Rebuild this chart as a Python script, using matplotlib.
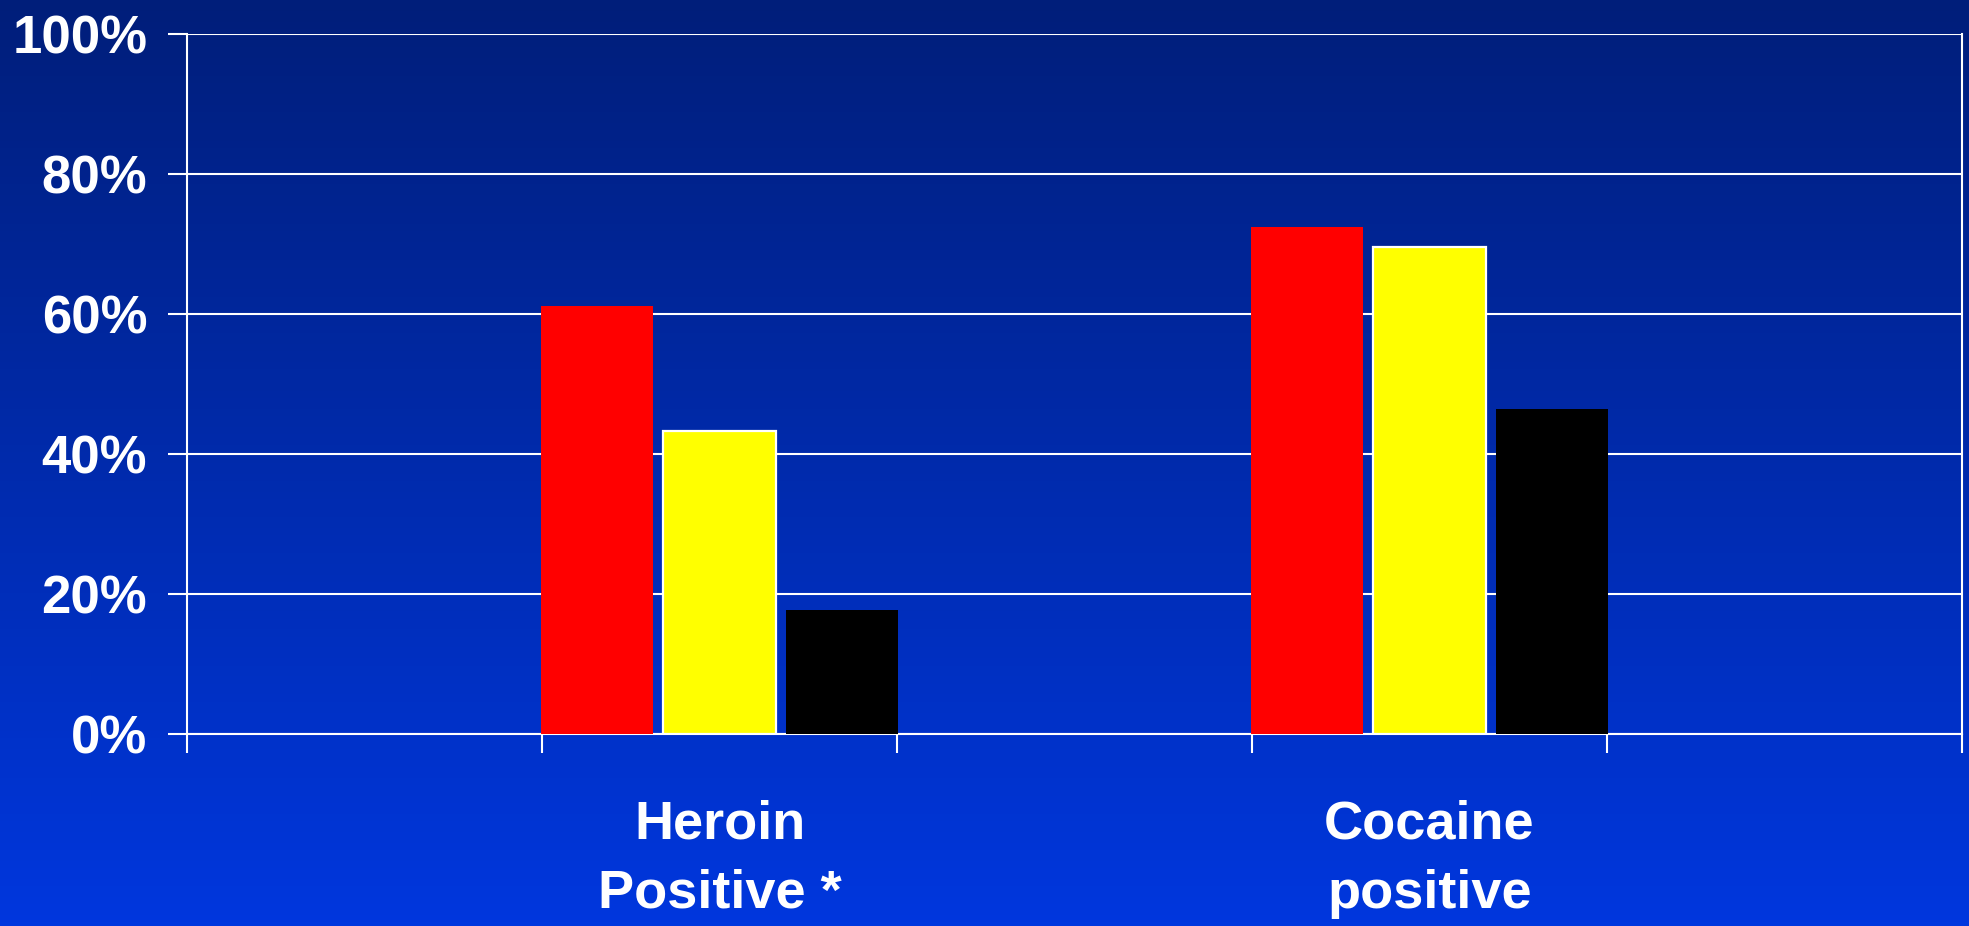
"""Grouped bar chart of heroin / cocaine positive rates on a blue gradient slide background."""

import matplotlib
matplotlib.use("Agg")
import matplotlib.pyplot as plt
import numpy as np

## Data.
categories = ["Heroin\nPositive *", "Cocaine\npositive"]
group_a = [61.2, 72.5]   # red bars
group_b = [43.3, 69.6]   # yellow bars
group_c = [17.7, 46.5]   # black bars
y_ticks = [0, 20, 40, 60, 80, 100]
y_tick_labels = ["0%", "20%", "40%", "60%", "80%", "100%"]

# The axis has five category slots, the data sits in the 2nd and 4th.
n_slots = 5
slots = [1, 3]

plt.rcParams['font.family'] = ['Liberation Sans', 'DejaVu Sans']

fig = plt.figure(figsize=(19.69, 9.26), dpi=100)

# Background gradient, dark navy at the top to brighter blue at the bottom.
bg = fig.add_axes([0, 0, 1, 1], zorder=0)
top = np.array([0, 30, 122]) / 255
bottom = np.array([0, 55, 222]) / 255
t = np.linspace(0, 1, 256)[:, None]
grad = top + (bottom - top) * t
bg.imshow(grad[:, None, :], aspect="auto", extent=[0, 1, 0, 1])
bg.axis("off")

ax = fig.add_axes([187 / 1969, 192 / 926, (1962 - 187) / 1969, 700 / 926], zorder=1)
ax.set_facecolor("none")

spacing = 0.3437
width = 0.3155
centers = np.array(slots) + 0.5

ax.bar(centers - spacing, group_a, width=width, color="#FF0000", zorder=3)
ax.bar(centers, group_b, width=width, color="#FFFF00", edgecolor="white",
       linewidth=1.6, zorder=3)
ax.bar(centers + spacing, group_c, width=width, color="#000000", zorder=3)

ax.set_xlim(0, n_slots)
ax.set_ylim(0, 100)

# Y axis.
ax.set_yticks(y_ticks)
ax.set_yticklabels(y_tick_labels, fontsize=38, fontweight="bold", color="white")
ax.tick_params(axis="y", direction="out", length=13.7, width=1.5, color="white", pad=15)
ax.yaxis.grid(True, color="white", linewidth=1.5)
ax.set_axisbelow(True)

# X axis: ticks on the slot boundaries, labels in the middle of the slots.
ax.set_xticks(np.arange(n_slots + 1))
ax.set_xticklabels([])
ax.tick_params(axis="x", which="major", direction="out", length=13.7, width=1.5, color="white")
ax.set_xticks(centers, minor=True)
ax.set_xticklabels(categories, minor=True, fontsize=39, fontweight="bold", color="white",
                   linespacing=1.5)
ax.tick_params(axis="x", which="minor", length=0, pad=47)

for side in ["left", "bottom", "right"]:
    ax.spines[side].set_color("white")
    ax.spines[side].set_linewidth(1.5)
ax.spines["top"].set_visible(False)

fig.savefig("out.png", dpi=100)
